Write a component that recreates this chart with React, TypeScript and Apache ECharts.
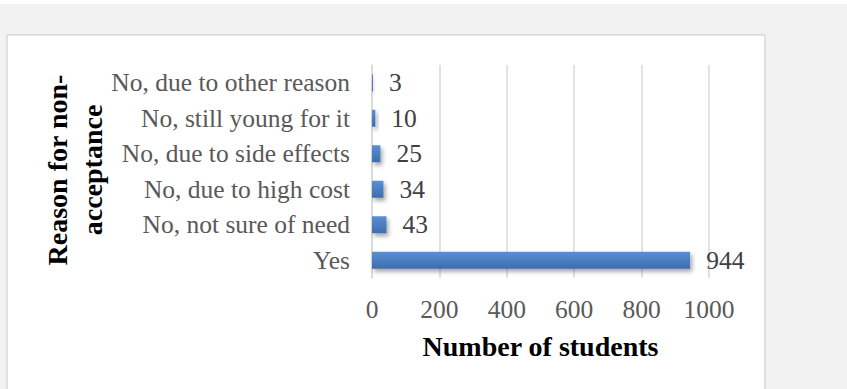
import React, { useEffect, useRef } from "react";
import * as echarts from "echarts";

const categories = [
  "Yes",
  "No, not sure of need",
  "No, due to high cost",
  "No, due to side effects",
  "No, still young for it",
  "No, due to other reason",
];
const values = [944, 43, 34, 25, 10, 3];
const xTicks = { min: 0, max: 1000, interval: 200 };
const xTitle = "Number of students";
const yTitle = "Reason for non-\nacceptance";

const FONT = "'Liberation Serif', 'Times New Roman', serif";

export default function App() {
  const ref = useRef<HTMLDivElement>(null);
  useEffect(() => {
    if (!ref.current) return;
    const chart = echarts.init(ref.current, undefined, { renderer: "svg" });
    chart.setOption({
      animation: false,
      backgroundColor: "#f2f2f2",
      textStyle: { fontFamily: FONT },
      graphic: [
        {
          type: "rect",
          z: -10,
          shape: { x: 0, y: 0, width: 847, height: 4 },
          style: { fill: "#ffffff" },
          silent: true,
        },
        {
          type: "rect",
          z: -10,
          shape: { x: 7, y: 35, width: 758, height: 370 },
          style: { fill: "#ffffff", stroke: "#d9d9d9", lineWidth: 1.5 },
          silent: true,
        },
        {
          type: "text",
          x: 74.5,
          y: 170,
          rotation: Math.PI / 2,
          style: {
            text: yTitle,
            fontFamily: FONT,
            fontWeight: "bold",
            fontSize: 28,
            lineHeight: 35,
            fill: "#000000",
            align: "center",
            verticalAlign: "middle",
          },
        },
      ],
      grid: { left: 372, top: 65, width: 337, height: 213 },
      xAxis: {
        type: "value",
        min: xTicks.min,
        max: xTicks.max,
        interval: xTicks.interval,
        axisLine: { show: false },
        axisTick: { show: false },
        axisLabel: {
          color: "#595959",
          fontSize: 25.5,
          fontFamily: FONT,
          margin: 18,
          formatter: (v: number) => String(v),
        },
        splitLine: { show: true, lineStyle: { color: "#d9d9d9", width: 1.5 } },
        name: xTitle,
        nameLocation: "middle",
        nameGap: 54,
        nameTextStyle: {
          color: "#000000",
          fontSize: 28,
          fontWeight: "bold",
          fontFamily: FONT,
        },
      },
      yAxis: {
        type: "category",
        data: categories,
        axisLine: { show: true, lineStyle: { color: "#d9d9d9", width: 1.5 } },
        axisTick: { show: false },
        axisLabel: {
          color: "#595959",
          fontSize: 25.5,
          fontFamily: FONT,
          margin: 22,
        },
      },
      series: [
        {
          type: "bar",
          data: values,
          barWidth: 17,
          itemStyle: {
            color: new echarts.graphic.LinearGradient(0, 0, 0, 1, [
              { offset: 0, color: "#5b8fd3" },
              { offset: 1, color: "#3d6dae" },
            ]),
            shadowColor: "rgba(0,0,0,0.35)",
            shadowBlur: 4,
            shadowOffsetX: 2,
            shadowOffsetY: 3,
          },
          label: {
            show: true,
            position: "right",
            distance: 16,
            color: "#404040",
            fontSize: 25.5,
            fontFamily: FONT,
          },
        },
      ],
    });
    return () => chart.dispose();
  }, []);
  return (
    <div
      ref={ref}
      style={{ position: "fixed", left: 0, top: 0, width: 847, height: 389 }}
    />
  );
}
